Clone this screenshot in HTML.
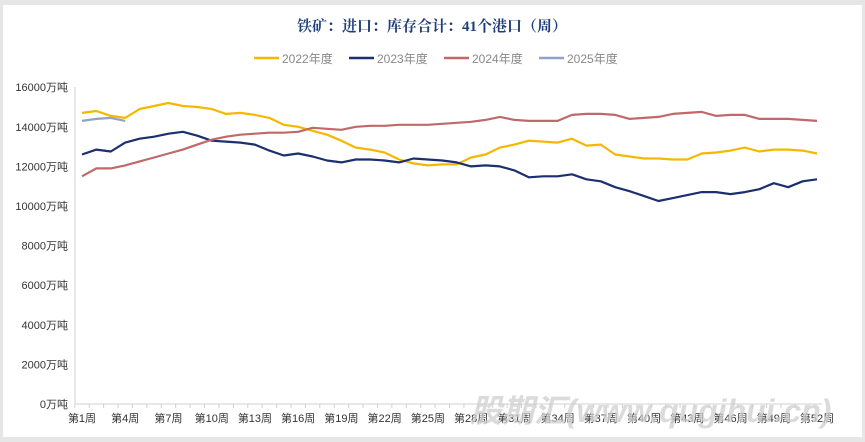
<!DOCTYPE html>
<html><head><meta charset="utf-8"><style>
html,body{margin:0;padding:0;background:#e6e6e6;}
#c{position:absolute;left:3px;top:5px;width:859px;height:432px;background:#fff;}
svg{position:absolute;left:0;top:0;}
text{font-family:"Liberation Sans","Noto Sans CJK SC",sans-serif;}
</style></head><body>
<div id="c"></div>
<svg id="s" width="865" height="442" xmlns="http://www.w3.org/2000/svg">
<text x="432" y="31" text-anchor="middle" font-size="15" font-weight="bold" fill="#1f3f7a" style="font-family:'Liberation Serif','Noto Serif CJK SC',serif">铁矿：进口：库存合计：41个港口（周）</text>
<g font-size="12" fill="#888">
<line x1="254" y1="58" x2="279" y2="58" stroke="#f5b800" stroke-width="2.5"/><text x="282" y="63">2022年度</text>
<line x1="349" y1="58" x2="374" y2="58" stroke="#1c2f6e" stroke-width="2.5"/><text x="377" y="63">2023年度</text>
<line x1="444" y1="58" x2="469" y2="58" stroke="#c0696a" stroke-width="2.5"/><text x="472" y="63">2024年度</text>
<line x1="539" y1="58" x2="564" y2="58" stroke="#8fa3c8" stroke-width="2.5"/><text x="567" y="63">2025年度</text>
</g>
<g id="ax"></g>
<g id="ln" fill="none" stroke-width="2.2" stroke-linejoin="round"></g>
<text x="470" y="422" font-size="32" font-weight="bold" font-style="italic" fill="#d0d0d0" opacity="0.75">股期汇(www.qugihui.cn)</text>
</svg>
<script>
function Y(v){return 404-v*19.8;}
function X(i){return 82+i*735/51;}
var ax=document.getElementById('ax'),h='';
h+='<line x1="75" y1="87" x2="75" y2="404" stroke="#d0d0d0"/>';
h+='<line x1="75" y1="404" x2="822" y2="404" stroke="#d0d0d0"/>';
for(var v=0;v<=16;v+=2){h+='<text x="68" y="'+(Y(v)+4)+'" font-size="11" fill="#333" text-anchor="end">'+(v*1000)+'万吨</text>';}
for(var i=0;i<52;i++){var x=X(i)-7.2;h+='<line x1="'+x+'" y1="404" x2="'+x+'" y2="408" stroke="#d0d0d0"/>';}
for(var i=0;i<52;i+=3){h+='<text x="'+X(i)+'" y="422" font-size="11" fill="#333" text-anchor="middle">第'+(i+1)+'周</text>';}
ax.innerHTML=h;
var d={
"#f5b800":[14.7,14.8,14.55,14.45,14.9,15.05,15.2,15.05,15.0,14.9,14.65,14.7,14.6,14.45,14.1,14.0,13.8,13.6,13.3,12.95,12.85,12.7,12.35,12.15,12.05,12.1,12.1,12.45,12.6,12.95,13.1,13.3,13.25,13.2,13.4,13.05,13.1,12.6,12.5,12.4,12.4,12.35,12.35,12.65,12.7,12.8,12.95,12.75,12.85,12.85,12.8,12.65],
"#1c2f6e":[12.6,12.85,12.75,13.2,13.4,13.5,13.65,13.75,13.55,13.3,13.25,13.2,13.1,12.8,12.55,12.65,12.5,12.3,12.2,12.35,12.35,12.3,12.2,12.4,12.35,12.3,12.2,12.0,12.05,12.0,11.8,11.45,11.5,11.5,11.6,11.35,11.25,10.95,10.75,10.5,10.25,10.4,10.55,10.7,10.7,10.6,10.7,10.85,11.15,10.95,11.25,11.35],
"#c0696a":[11.5,11.9,11.9,12.05,12.25,12.45,12.65,12.85,13.1,13.35,13.5,13.6,13.65,13.7,13.7,13.75,13.95,13.9,13.85,14.0,14.05,14.05,14.1,14.1,14.1,14.15,14.2,14.25,14.35,14.5,14.35,14.3,14.3,14.3,14.6,14.65,14.65,14.6,14.4,14.45,14.5,14.65,14.7,14.75,14.55,14.6,14.6,14.4,14.4,14.4,14.35,14.3],
"#8fa3c8":[14.3,14.4,14.45,14.3]};
var ln=document.getElementById('ln'),o='';
for(var c in d){var p=d[c].map(function(v,i){return (i?'L':'M')+X(i).toFixed(1)+','+Y(v).toFixed(1);}).join('');o+='<path d="'+p+'" stroke="'+c+'"/>';}
ln.innerHTML=o;
</script>
</body></html>
